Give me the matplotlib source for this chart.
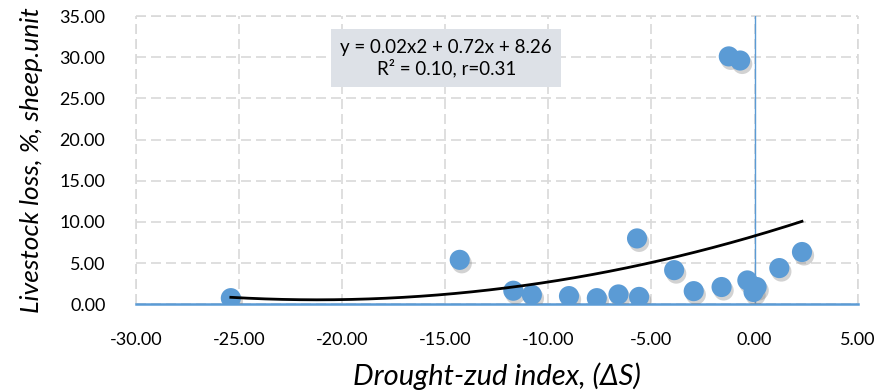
import numpy as np
import matplotlib
matplotlib.use("Agg")
import matplotlib.pyplot as plt
import matplotlib.transforms as mtransforms

# ── Data ────────────────────────────────────────────────────────────
drought_index = [-25.4, -14.3, -11.7, -10.8, -9.0, -7.65, -6.6, -5.6, -5.7,
                 -3.9, -2.95, -1.6, -0.35, -0.05, 0.1, 1.2, 2.3, -1.25, -0.7]
livestock_loss = [0.75, 5.4, 1.65, 1.15, 1.0, 0.75, 1.2, 0.9, 8.0,
                  4.15, 1.6, 2.1, 2.9, 1.5, 2.1, 4.4, 6.35, 30.1, 29.6]
x_ticks = [-30, -25, -20, -15, -10, -5, 0, 5]
y_ticks = [0, 5, 10, 15, 20, 25, 30, 35]
eq_text = "y = 0.02x2 + 0.72x + 8.26\nR² = 0.10, r=0.31"

BLUE = "#5B9BD5"
GRID = "#D9D9D9"

plt.rcParams["font.family"] = ["Lato", "DejaVu Sans"]

fig = plt.figure(figsize=(8.74, 3.91), dpi=100)
ax = fig.add_axes([0.1556, 0.2217, 0.8257, 0.7373])

ax.set_xlim(-30, 5)
ax.set_ylim(0, 35)
ax.set_xticks(x_ticks)
ax.set_yticks(y_ticks)
ax.set_xticklabels([f"{v:.2f}" for v in x_ticks], fontsize=13)
ax.set_yticklabels([f"{v:.2f}" for v in y_ticks], fontsize=13)
ax.tick_params(length=0)
ax.tick_params(axis="x", pad=20)
ax.tick_params(axis="y", pad=22)
for s in ax.spines.values():
    s.set_visible(False)

ax.grid(True, color=GRID, lw=1.2, linestyle=(0, (6, 3)))
ax.set_axisbelow(True)
# outer dashed border (top and right gridlines)
ax.axhline(35, color=GRID, lw=1.2, linestyle=(0, (6, 3)), clip_on=False)
ax.axvline(5, color=GRID, lw=1.2, linestyle=(0, (6, 3)), clip_on=False)
ax.axvline(-30, color=GRID, lw=1.2, linestyle=(0, (6, 3)), clip_on=False)

# axes through the origin
ax.axhline(0, color=BLUE, lw=1.8, zorder=2, clip_on=False)
ax.axvline(0, color=BLUE, lw=1.0, zorder=2)

# polynomial trendline (order 2), same as the spreadsheet fit
x = np.array(drought_index)
y = np.array(livestock_loss)
coef = np.polyfit(x, y, 2)
xx = np.linspace(x.min(), x.max(), 200)

# shadow under markers
shadow = mtransforms.offset_copy(ax.transData, fig=fig, x=1.5, y=-2.5, units="points")
ax.scatter(x, y, s=210, color="#7f7f7f", alpha=0.35, edgecolors="none",
           transform=shadow, zorder=3)
ax.scatter(x, y, s=210, color=BLUE, edgecolors="none", zorder=4)
ax.plot(xx, np.polyval(coef, xx), color="black", lw=2, zorder=5)

ax.text(0.43, 0.854, eq_text, transform=ax.transAxes, ha="center", va="center",
        fontsize=13.5, linespacing=1.2,
        bbox=dict(boxstyle="square,pad=0.5", fc="#DDE1E7", ec="none"), zorder=6)

ax.set_xlabel("Drought-zud index, (ΔS)", fontsize=21, style="italic", labelpad=10)
ax.set_ylabel("Livestock loss, %, sheep.unit", fontsize=19, style="italic", labelpad=12)

fig.savefig("out.png", dpi=100)
